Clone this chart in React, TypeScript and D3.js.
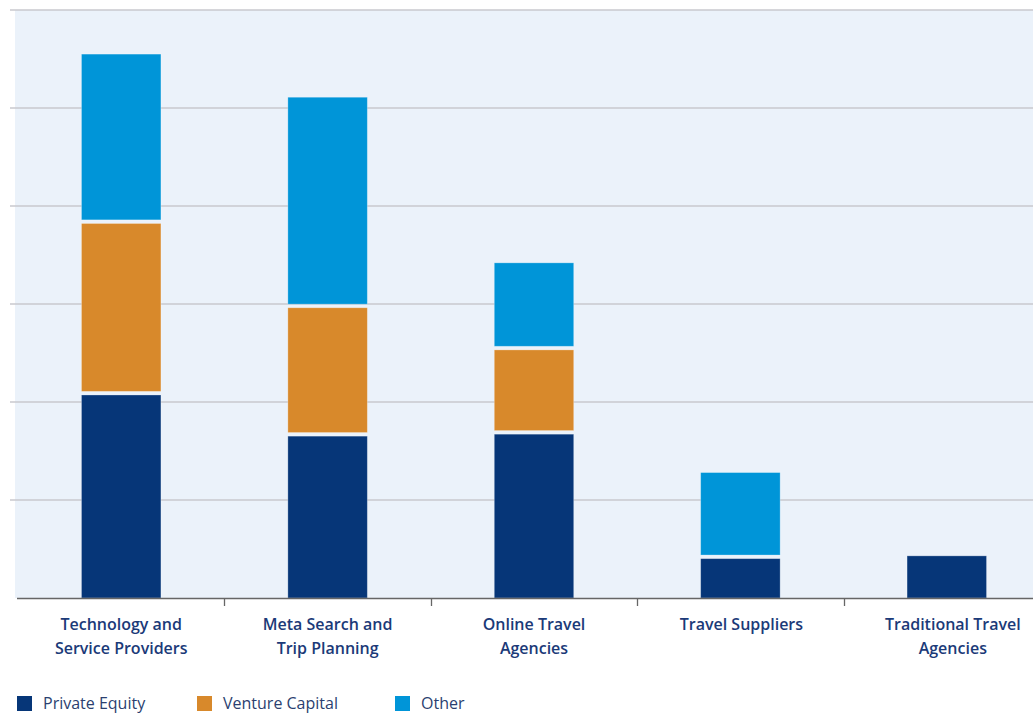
import React from "react";
import * as d3 from "d3";

const categories = [
  ["Technology and", "Service Providers"],
  ["Meta Search and", "Trip Planning"],
  ["Online Travel", "Agencies"],
  ["Travel Suppliers"],
  ["Traditional Travel", "Agencies"],
];
const privateEquity = [2.09, 1.67, 1.69, 0.42, 0.43];
const ventureCapital = [1.75, 1.31, 0.86, 0, 0];
const other = [1.71, 2.13, 0.87, 0.86, 0];
const seriesNames = ["Private Equity", "Venture Capital", "Other"];
const seriesColors = ["#063678", "#D8892B", "#0095D8"];
const gridTicks = [0, 1, 2, 3, 4, 5, 6];

const W = 1033;
const H = 713;

export default function App() {
  const x = d3.scaleBand<number>().domain(d3.range(categories.length)).range([18, 1050]).paddingInner(0.615).paddingOuter(0.3075);
  const y = d3.scaleLinear().domain([0, 6]).range([598, 10]);
  const step = x.step();
  const rows = categories.map((_, i) => ({ i, pe: privateEquity[i], vc: ventureCapital[i], ot: other[i] }));
  const stack = d3.stack<any>().keys(["pe", "vc", "ot"])(rows);
  const labelShift = [0, 0, 0, 1, 6];

  return (
    <svg width={W} height={H} style={{ position: "absolute", left: 0, top: 0 }} fontFamily="'Open Sans', sans-serif">
      <rect x={15} y={10} width={W - 15} height={588} fill="#EBF2FA" />
      {gridTicks.slice(1).map((t) => (
        <line key={t} x1={10} x2={W} y1={y(t)} y2={y(t)} stroke="#C9C9CE" strokeWidth={1.3} />
      ))}
      {stack.map((layer, si) =>
        layer.map((d, i) => {
          const v = d[1] - d[0];
          if (v <= 0) return null;
          const isTopSeg = stack.slice(si + 1).every((l) => l[i][1] - l[i][0] <= 0);
          const isBottom = d[0] === 0;
          const yt = y(d[1]) + (isTopSeg ? 0 : 1.8);
          const yb = y(d[0]) - (isBottom ? 0 : 1.8);
          return (
            <rect
              key={si + "-" + i}
              x={x(i)!}
              y={yt}
              width={x.bandwidth()}
              height={Math.max(0, yb - yt)}
              fill={seriesColors[si]}
              stroke="rgba(255,255,255,0.35)"
              strokeWidth={0.8}
            />
          );
        })
      )}
      <line x1={17} x2={W} y1={598.5} y2={598.5} stroke="#666" strokeWidth={1.6} />
      {d3.range(1, categories.length).map((i) => {
        const tx = Math.round(x(i)! - (step - x.bandwidth()) / 2) + 0.5;
        return <line key={i} x1={tx} x2={tx} y1={598} y2={606} stroke="#666" strokeWidth={1.3} />;
      })}
      {categories.map((lines, i) => (
        <text key={i} textAnchor="middle" fill="#1B3A78" fontSize={16} fontWeight={600}>
          {lines.map((l, k) => (
            <tspan key={k} x={x(i)! + x.bandwidth() / 2 + labelShift[i]} y={630 + k * 24}>
              {l}
            </tspan>
          ))}
        </text>
      ))}
      {seriesNames.map((name, i) => {
        const lx = [17, 197, 395][i];
        return (
          <g key={name}>
            <rect x={lx} y={696} width={15} height={15} fill={seriesColors[i]} />
            <text x={lx + 26} y={709} fill="#2B3F70" fontSize={16}>
              {name}
            </text>
          </g>
        );
      })}
    </svg>
  );
}
